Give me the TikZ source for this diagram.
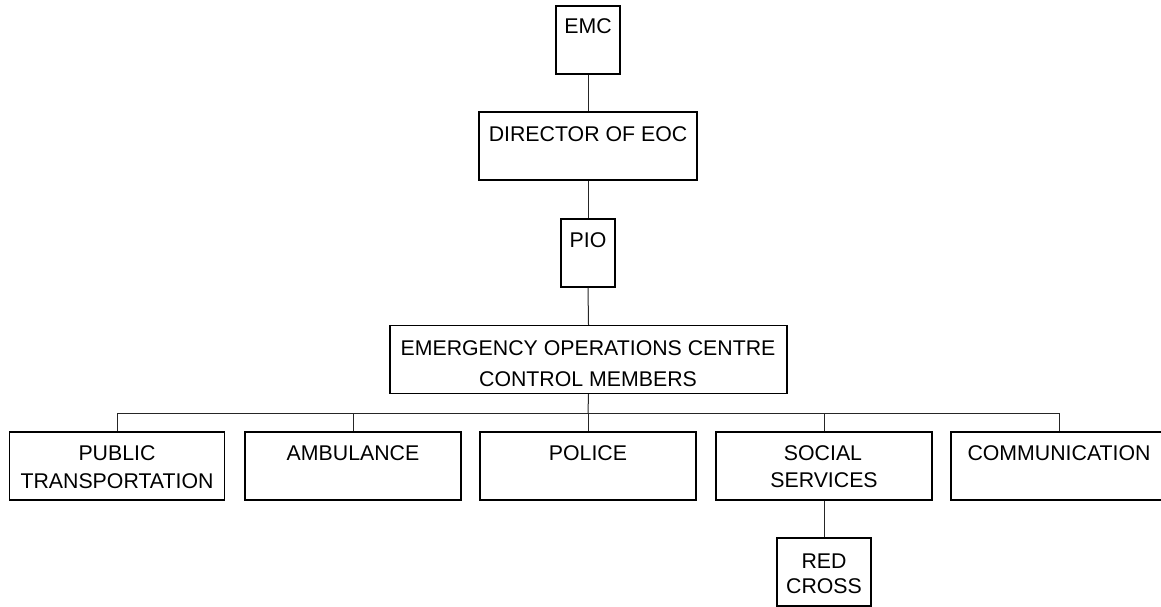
\documentclass[tikz,border=0pt]{standalone}
\usepackage{fontspec}
\setmainfont{Liberation Sans}
\begin{document}
\begin{tikzpicture}[x=1pt,y=-1pt,
  box/.style={draw=black, line width=1.2pt, inner sep=0pt, minimum height=68pt},
  txt/.style={anchor=base, inner sep=0pt, font=\fontsize{21.3}{26}\selectfont},
  conn/.style={draw=black!85, line width=1pt}]
\useasboundingbox (0,0) rectangle (1161,607);
% boxes
\node[box, minimum width=64pt]  (emc) at (588,40) {};
\node[box, minimum width=218pt] (dir) at (588,146) {};
\node[box, minimum width=54pt]  (pio) at (588,253) {};
\node[box, minimum width=397pt] (eoc) at (588.5,359.5) {};
\node[box, minimum width=215pt] (pub) at (117,466) {};
\node[box, minimum width=216pt] (amb) at (353,466) {};
\node[box, minimum width=216pt] (pol) at (588,466) {};
\node[box, minimum width=216pt] (soc) at (824,466) {};
\node[box, minimum width=216pt] (com) at (1059,466) {};
\node[box, minimum width=94pt]  (red) at (824,572) {};
% texts
\node[txt] (temc) at (588,34) {EMC};
\node[txt] (tdir) at (588,141.7) {DIRECTOR OF EOC};
\node[txt] (tpio) at (588,247.3) {PIO};
\node[txt] (teoc1) at (588,355.7) {EMERGENCY OPERATIONS CENTRE};
\node[txt] (teoc2) at (588,386.7) {CONTROL MEMBERS};
\node[txt] (tpub1) at (117,460) {PUBLIC};
\node[txt] (tpub2) at (117,488) {TRANSPORTATION};
\node[txt] (tamb) at (353,460) {AMBULANCE};
\node[txt] (tpol) at (588,460) {POLICE};
\node[txt] (tsoc1) at (823,460) {SOCIAL};
\node[txt] (tsoc2) at (824,487) {SERVICES};
\node[txt] (tcom) at (1059,460) {COMMUNICATION};
\node[txt] (tred1) at (824,568.3) {RED};
\node[txt] (tred2) at (824,593.3) {CROSS};
% connectors
\coordinate (bus) at (588,413);
\draw[conn] (emc.south) -- (dir.north);
\draw[conn] (dir.south) -- (pio.north);
\draw[conn] (pio.south) -- (eoc.north);
\draw[conn] (eoc.south) -- (bus);
\draw[conn] (bus) -| (pub.north);
\draw[conn] (bus) -| (amb.north);
\draw[conn] (bus) -- (pol.north);
\draw[conn] (bus) -| (soc.north);
\draw[conn] (bus) -| (com.north);
\draw[conn] (soc.south) -- (red.north);
\end{tikzpicture}
\end{document}
